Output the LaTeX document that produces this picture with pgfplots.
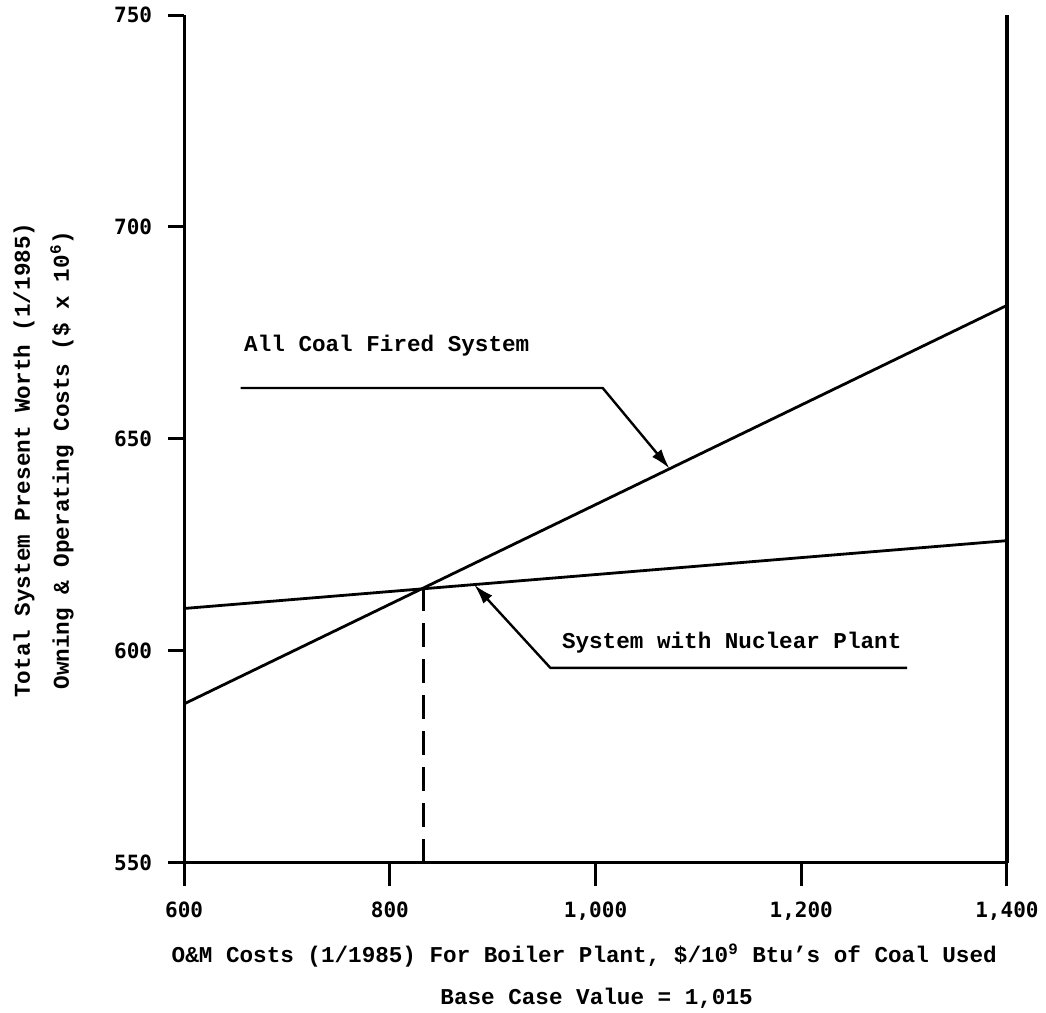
\documentclass[border=0pt]{standalone}
\usepackage{pgfplots}
\pgfplotsset{compat=1.18}
\usepackage{fontspec}
\setmainfont{Liberation Mono}
\newfontfamily\tickfont{DejaVu Sans Mono}
\usetikzlibrary{arrows.meta}

\begin{document}
\begin{tikzpicture}
\begin{axis}[
  scale only axis,
  width=411pt, height=423.5pt,
  xmin=600, xmax=1400, ymin=550, ymax=750,
  axis x line*=bottom, axis y line*=left,
  axis line style={line width=1.6pt, -},
  xtick={600,800,...,1400},
  ytick={550,600,...,750},
  xticklabels={600,800,{1,000},{1,200},{1,400}},
  tick align=outside,
  major tick length=8pt,
  tick style={line width=1.5pt, black},
  xtick style={/pgfplots/major tick length=11.5pt},
  /pgf/number format/assume math mode=true,
  ticklabel style={font=\tickfont\bfseries\fontsize{10.5}{12}\selectfont},
  xticklabel style={yshift=-8pt},
  yticklabel style={xshift=-4.5pt},
  clip=false,
]
% two cost lines
\addplot[line width=1.4pt, black] coordinates {(600,587.5) (1400,681.5)};
\addplot[line width=1.4pt, black] coordinates {(600,610) (1400,626)};
% breakeven marker
\addplot[line width=1.4pt, black, dash pattern=on 12pt off 6pt] coordinates {(833,550) (833,614.8)};

\draw[line width=1.6pt] (rel axis cs:1,0) -- (rel axis cs:1,1);

\draw[line width=1.2pt, -{Latex[length=10pt,width=6pt]}]
  (axis cs:655,662) -- (axis cs:1007,662) -- (axis cs:1072,643);
\draw[line width=1.2pt, -{Latex[length=10pt,width=6pt]}]
  (axis cs:1303,596) -- (axis cs:956,596) -- (axis cs:882,615.6);

\node[anchor=west, inner sep=0, font=\bfseries\fontsize{11.3}{13}\selectfont]
  at (axis cs:658,672) {All Coal Fired System};
\node[anchor=west, inner sep=0, font=\bfseries\fontsize{11.3}{13}\selectfont]
  at (axis cs:967,602) {System with Nuclear Plant};

\node[rotate=90, inner sep=0, font=\bfseries\fontsize{11.3}{13}\selectfont]
  at ([xshift=-80pt]axis cs:600,645) {Total System Present Worth (1/1985)};
\node[rotate=90, inner sep=0, font=\bfseries\fontsize{11.3}{13}\selectfont]
  at ([xshift=-61pt]axis cs:600,645) {Owning \& Operating Costs (\$ x 10\textsuperscript{6})};
\node[inner sep=0, font=\bfseries\fontsize{11.3}{13}\selectfont]
  at ([yshift=-46.5pt]axis cs:989,550) {O\&M Costs (1/1985) For Boiler Plant, \$/10\textsuperscript{9} Btu's of Coal Used};
\node[inner sep=0, font=\bfseries\fontsize{11.3}{13}\selectfont]
  at ([yshift=-67.5pt]axis cs:1001,550) {Base Case Value = 1,015};

\coordinate (bl) at (rel axis cs:0,0);
\coordinate (tr) at (rel axis cs:1,1);
\end{axis}
\pgfresetboundingbox
\path ([shift={(-92pt,-75pt)}]bl) rectangle ([shift={(19.5pt,7.5pt)}]tr);
\end{tikzpicture}
\end{document}
